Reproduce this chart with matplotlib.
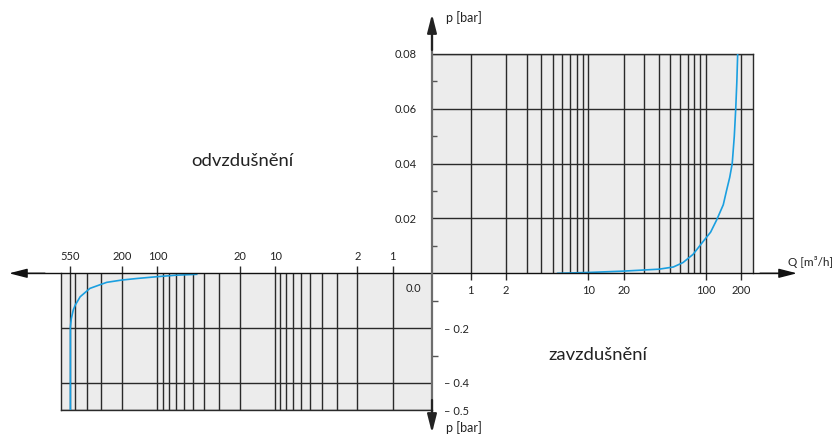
import numpy as np
import matplotlib
matplotlib.use("Agg")
import matplotlib.pyplot as plt
from matplotlib.ticker import FixedLocator, NullFormatter

plt.rcParams['font.family'] = ['Lato', 'DejaVu Sans']

# upper panel (odvzdusneni / venting) - Q [m3/h] vs p [bar]
up_q = [5.5, 10, 20, 40, 53, 64, 78, 95, 110, 124, 141, 150, 160, 168, 175, 180, 184, 187]
up_p = [0.0, 0.0003, 0.0008, 0.0015, 0.0023, 0.0039, 0.0069, 0.0116, 0.015, 0.0195,
        0.025, 0.03, 0.035, 0.04, 0.05, 0.06, 0.07, 0.08]
up_grid_x = [1, 2, 3, 4, 5, 6, 7, 8, 9, 10, 20, 30, 40, 50, 60, 70, 80, 90, 100, 200]
up_ticks_x = [1, 2, 10, 20, 100, 200]
up_ticks_y = [0.02, 0.04, 0.06, 0.08]
up_minor_y = [0.01, 0.03, 0.05, 0.07]

# lower panel (zavzdusneni / air intake)
lo_q = [46.4, 70, 101, 150, 200, 270, 375, 454, 500, 520, 540, 550, 550]
lo_p = [-0.0037, -0.007, -0.0124, -0.019, -0.0245, -0.033, -0.055, -0.0855, -0.116,
        -0.134, -0.165, -0.195, -0.5]
lo_grid_x = [1, 2, 3, 4, 5, 6, 7, 8, 9, 10, 20, 30, 40, 50, 60, 70, 80, 90, 100,
             200, 300, 400, 500, 550]
lo_ticks_x = [550, 200, 100, 20, 10, 2, 1]
lo_ticks_y = [-0.2, -0.4, -0.5]
lo_minor_y = [-0.1, -0.3]

W, H = 836, 436
fig = plt.figure(figsize=(W / 100, H / 100), dpi=100)

blue = '#1a9fe0'
gridc = '#2a2a2a'
txtc = '#222222'
bg = '#ececec'

def frac(x0, y0, x1, y1):
    return [x0 / W, 1 - y1 / H, (x1 - x0) / W, (y1 - y0) / H]

# ---- upper panel
ax = fig.add_axes(frac(432, 54, 752.5, 273.3))
ax.set_facecolor(bg)
ax.set_xscale('log')
ax.set_xlim(0.469, 250)
ax.set_ylim(0, 0.08)
ax.plot(up_q, up_p, color=blue, lw=1.2, zorder=3)
ax.xaxis.set_major_locator(FixedLocator(up_ticks_x))
ax.xaxis.set_minor_locator(FixedLocator(up_grid_x))
ax.xaxis.set_minor_formatter(NullFormatter())
ax.set_xticklabels([str(v) for v in up_ticks_x])
ax.yaxis.set_major_locator(FixedLocator(up_ticks_y))
ax.yaxis.set_minor_locator(FixedLocator(up_minor_y))
ax.set_yticklabels(['%.2f' % v for v in up_ticks_y])
ax.tick_params(axis='x', which='major', direction='out', length=5, width=1,
               color=gridc, labelsize=8, pad=3.5, labelcolor=txtc)
ax.tick_params(axis='x', which='minor', length=0)
ax.tick_params(axis='y', which='major', length=0, labelsize=8, pad=11, labelcolor=txtc)
ax.tick_params(axis='y', which='minor', direction='in', length=3.5, width=1, color='#555')
ax.grid(True, axis='x', which='both', color=gridc, lw=1)
ax.grid(True, axis='y', which='major', color=gridc, lw=1)
for s in ['left', 'bottom']:
    ax.spines[s].set_visible(False)
for s in ['top', 'right']:
    ax.spines[s].set_color(gridc)
    ax.spines[s].set_linewidth(1)

# ---- lower panel
ax2 = fig.add_axes(frac(61, 273.3, 432, 410.3))
ax2.set_facecolor(bg)
ax2.set_xscale('log')
ax2.set_xlim(661, 0.463)
ax2.set_ylim(-0.5, 0)
ax2.plot(lo_q, lo_p, color=blue, lw=1.2, zorder=3)
ax2.xaxis.tick_top()
ax2.yaxis.tick_right()
ax2.xaxis.set_major_locator(FixedLocator(lo_ticks_x))
ax2.xaxis.set_minor_locator(FixedLocator(lo_grid_x))
ax2.xaxis.set_minor_formatter(NullFormatter())
ax2.set_xticklabels([str(v) for v in lo_ticks_x])
ax2.yaxis.set_major_locator(FixedLocator(lo_ticks_y))
ax2.yaxis.set_minor_locator(FixedLocator(lo_minor_y))
ax2.set_yticklabels(['\u2013 %.1f' % abs(v) for v in lo_ticks_y])
ax2.tick_params(axis='x', which='major', direction='out', length=5, width=1,
                color=gridc, labelsize=8, pad=3, labelcolor=txtc)
ax2.tick_params(axis='x', which='minor', length=0)
ax2.tick_params(axis='y', which='major', length=0, labelsize=8, pad=9, labelcolor=txtc)
ax2.tick_params(axis='y', which='minor', direction='out', length=4, width=1, color='#555')
ax2.grid(True, axis='x', which='both', color=gridc, lw=1)
ax2.grid(True, axis='y', which='major', color=gridc, lw=1)
for s in ['top', 'right']:
    ax2.spines[s].set_visible(False)
for s in ['left', 'bottom']:
    ax2.spines[s].set_color(gridc)
    ax2.spines[s].set_linewidth(1)

# ---- overlay: axis arrows and labels
ov = fig.add_axes([0, 0, 1, 1])
ov.set_xlim(0, W)
ov.set_ylim(H, 0)
ov.axis('off')
ov.patch.set_alpha(0)

arr = dict(arrowstyle='-|>,head_length=1.1,head_width=0.28', shrinkA=0, shrinkB=0)
# x axis, both directions
ov.plot([25, 782], [273.3, 273.3], color='#111', lw=1)
ov.annotate('', xy=(797, 273.3), xytext=(760, 273.3),
            arrowprops=dict(arr, color='#111', lw=1))
ov.annotate('', xy=(9, 273.3), xytext=(45, 273.3),
            arrowprops=dict(arr, color='#111', lw=1))
# y axis
ov.plot([432, 432], [30, 420], color='#6e6e6e', lw=1.6)
ov.annotate('', xy=(432, 14), xytext=(432, 50),
            arrowprops=dict(arr, color='#222', lw=1.6))
ov.annotate('', xy=(432, 433), xytext=(432, 400),
            arrowprops=dict(arr, color='#222', lw=1.6))

ov.text(446, 18, 'p [bar]', fontsize=9, va='center', ha='left', color=txtc)
ov.text(446, 428, 'p [bar]', fontsize=9, va='center', ha='left', color=txtc)
ov.text(788, 262, 'Q [m\u00b3/h]', fontsize=8.5, va='center', ha='left', color=txtc)
ov.text(421, 288, '0.0', fontsize=8, va='center', ha='right', color=txtc)
ov.text(242, 161, 'odvzdušnění', fontsize=13.3, va='center', ha='center', color=txtc)
ov.text(598, 355, 'zavzdušnění', fontsize=13.3, va='center', ha='center', color=txtc)

fig.savefig('out.png', dpi=100, facecolor='white')
